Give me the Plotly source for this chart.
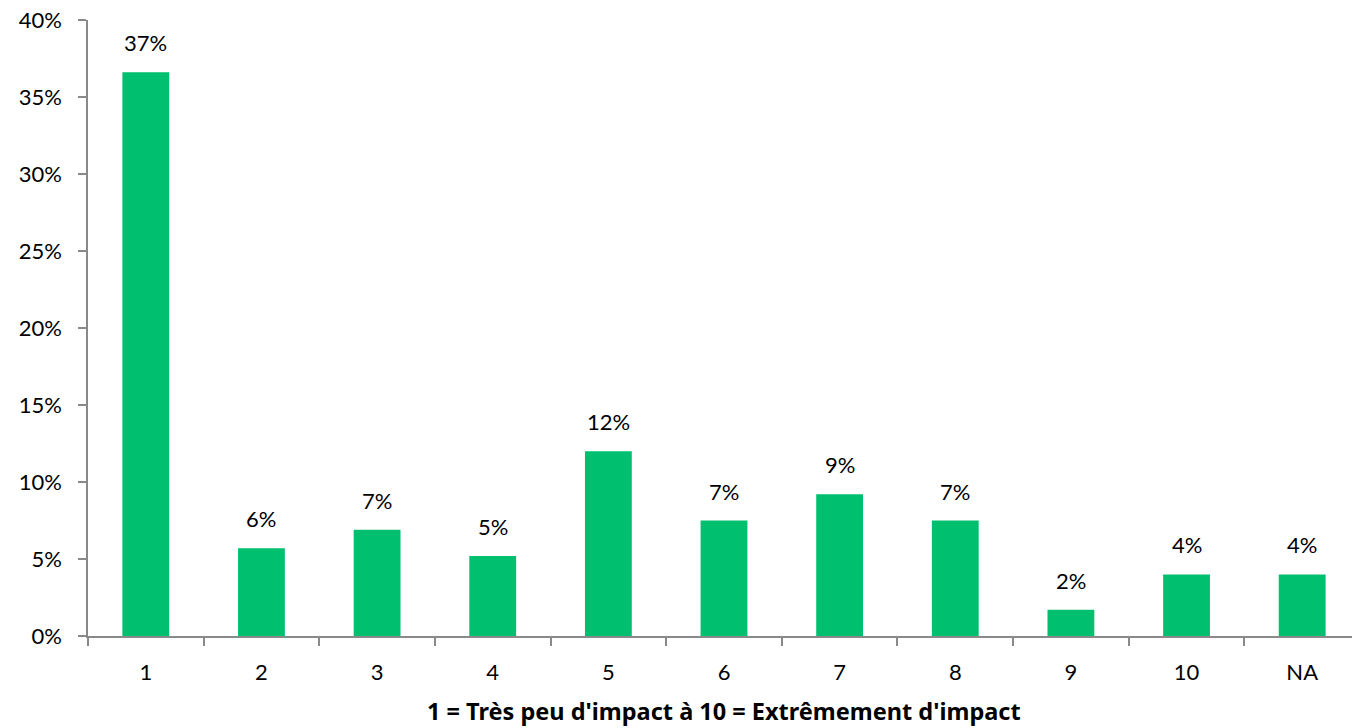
import plotly.graph_objects as go

categories = ["1", "2", "3", "4", "5", "6", "7", "8", "9", "10", "NA"]
values = [0.366, 0.057, 0.069, 0.052, 0.120, 0.075, 0.092, 0.075, 0.017, 0.040, 0.040]
labels = ["37%", "6%", "7%", "5%", "12%", "7%", "9%", "7%", "2%", "4%", "4%"]
y_ticks = [0, 0.05, 0.10, 0.15, 0.20, 0.25, 0.30, 0.35, 0.40]
y_tick_labels = ["0%", "5%", "10%", "15%", "20%", "25%", "30%", "35%", "40%"]
x_title = "1 = Très peu d'impact à 10 = Extrêmement d'impact"

FONT = "Lato, Carlito, Calibri, sans-serif"
TITLE_FONT = "Noto Sans, Open Sans, sans-serif"
FS = 22

fig = go.Figure(
    go.Bar(
        x=categories,
        y=values,
        marker=dict(color="#00BF6F", line=dict(width=0)),
        cliponaxis=False,
    )
)

for i, (v, t) in enumerate(zip(values, labels)):
    fig.add_annotation(
        x=i, y=v, xref="x", yref="y", text=t, showarrow=False,
        yanchor="bottom", yshift=14,
        font=dict(family=FONT, size=FS, color="#000000"),
    )

fig.add_annotation(
    x=0.5, y=0, xref="paper", yref="paper", text="<b>" + x_title + "</b>",
    showarrow=False, yanchor="middle", yshift=-75,
    font=dict(family=TITLE_FONT, size=23.5, color="#000000"),
)

fig.update_layout(
    width=1360,
    height=728,
    margin=dict(l=88, r=0, t=20, b=92, autoexpand=False),
    paper_bgcolor="white",
    plot_bgcolor="white",
    bargap=0.595,
    showlegend=False,
    font=dict(family=FONT, size=FS, color="#000000"),
)

fig.update_yaxes(
    range=[0, 0.40],
    tickvals=y_ticks,
    ticktext=y_tick_labels,
    showgrid=False,
    zeroline=False,
    showline=True,
    linecolor="#898989",
    linewidth=1.5,
    ticks="outside",
    ticklen=8,
    tickcolor="#898989",
    tickwidth=1.5,
    automargin=False,
    ticklabelstandoff=12,
    tickfont=dict(family=FONT, size=FS, color="#000000"),
)

fig.update_xaxes(
    type="category",
    showgrid=False,
    showline=True,
    linecolor="#898989",
    linewidth=1.5,
    ticks="outside",
    tickson="boundaries",
    ticklen=8,
    tickcolor="#898989",
    tickwidth=1.5,
    automargin=False,
    ticklabelstandoff=16,
    tickfont=dict(family=FONT, size=FS, color="#000000"),
)

fig.write_html(
    "out.html",
    config={"displayModeBar": False},
    post_script=(
        "document.body.style.margin='0';document.body.style.padding='0';"
        "document.body.style.overflow='hidden';"
        "document.documentElement.style.overflow='hidden';"
    ),
)
